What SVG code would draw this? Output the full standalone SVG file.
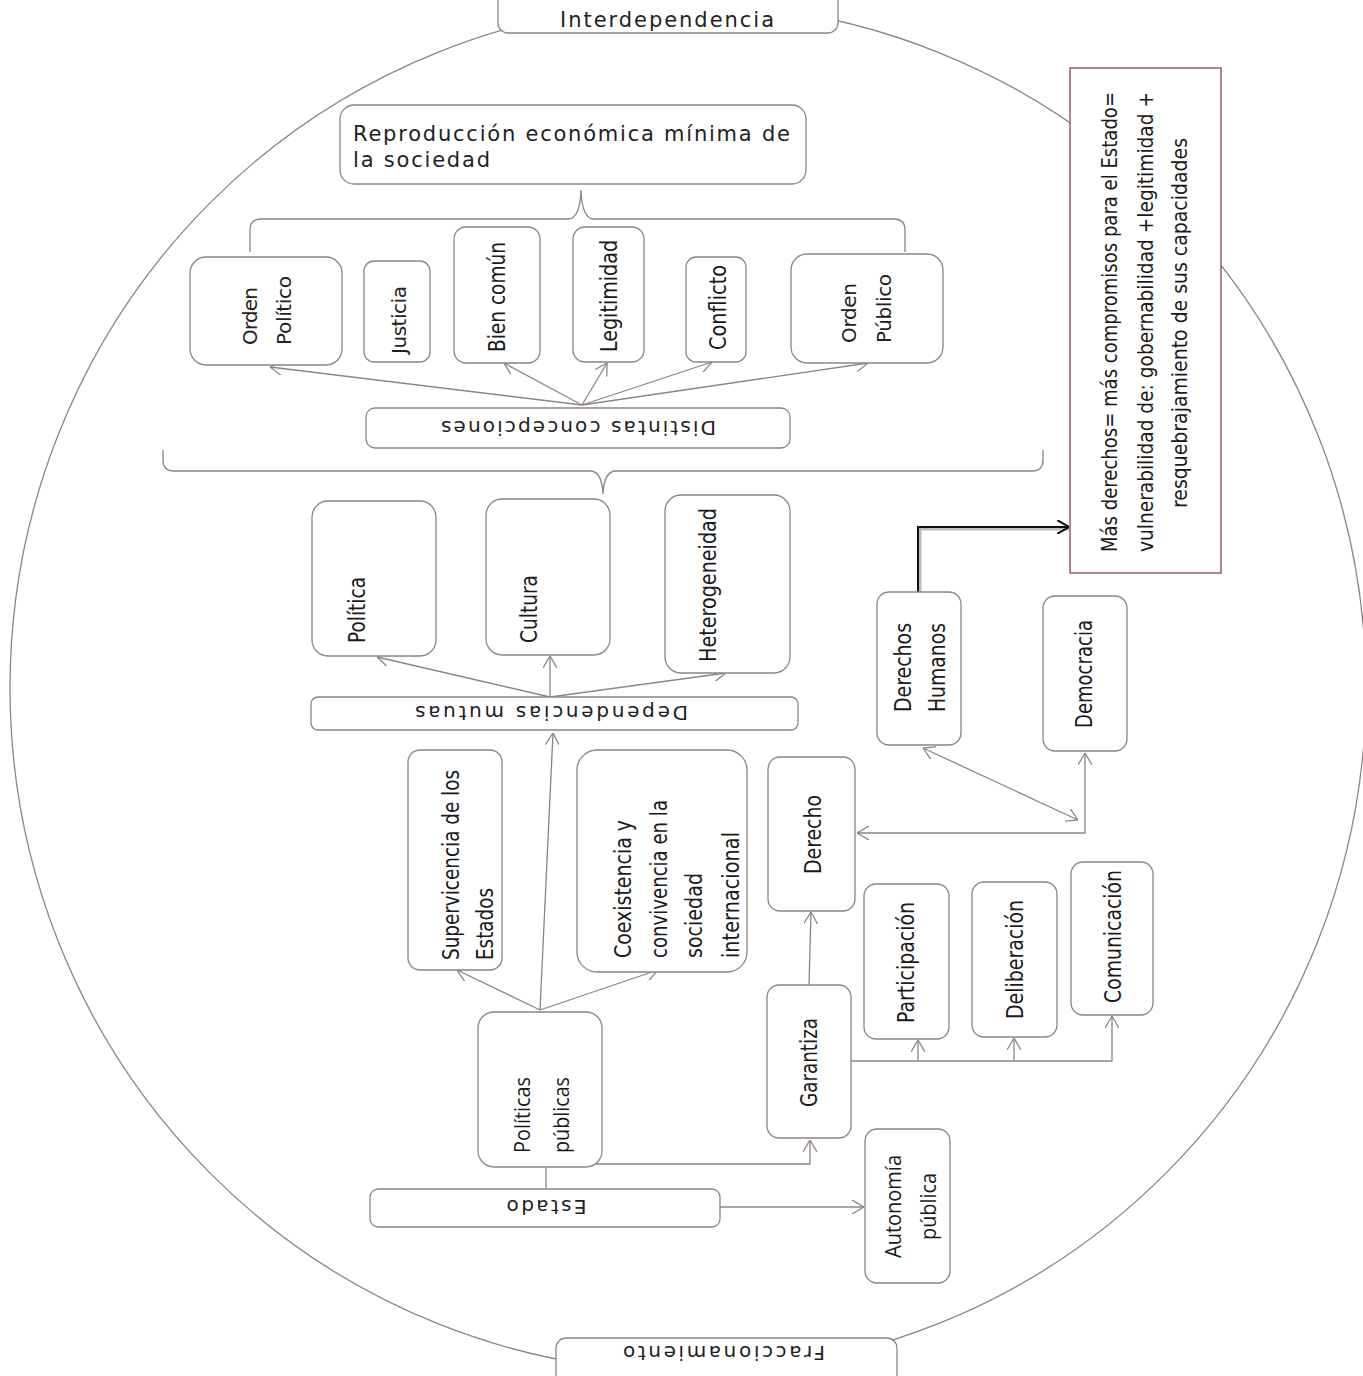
<svg xmlns="http://www.w3.org/2000/svg" width="1363" height="1376" viewBox="0 0 1363 1376">
<style>
.b{fill:#fff;stroke:#8e8484;stroke-width:1.3}
.c{fill:none;stroke:#8e8484;stroke-width:1.3}
.w{font-family:"DejaVu Sans",Verdana,sans-serif;font-size:20px;fill:#222}
.n{font-family:"Liberation Sans Narrow","DejaVu Sans Condensed","Liberation Sans",sans-serif;font-size:23px;fill:#1a1a1a}
.o{font-family:"Open Sans","Noto Sans",sans-serif;font-size:21px;fill:#1a1a1a}
.m{text-anchor:middle;dominant-baseline:central}
</style>
<defs>
<marker id="ah" viewBox="0 0 12 14" refX="12" refY="7" markerWidth="12" markerHeight="14" markerUnits="userSpaceOnUse" orient="auto-start-reverse">
<path d="M0,0 L12,7 L0,14" fill="none" stroke="#8e8484" stroke-width="1.3"/>
</marker>
<marker id="ahk" viewBox="0 0 12 14" refX="12" refY="7" markerWidth="12" markerHeight="14" markerUnits="userSpaceOnUse" orient="auto">
<path d="M0,0 L12,7 L0,14" fill="none" stroke="#111" stroke-width="2"/>
</marker>
</defs>
<rect width="1363" height="1376" fill="#fff"/>
<ellipse cx="688" cy="688" rx="678" ry="684" class="c"/>

<g id="connectors">
<path class="c" d="M250,252 V230 Q250,219 261,219 H568 Q580,219 581,190 Q582,219 594,219 H894 Q905,219 905,230 V252"/>
<path class="c" d="M163,450 V460 Q163,471 174,471 H590 Q602,471 603,494 Q604,471 616,471 H1032 Q1043,471 1043,460 V450"/>
<g class="c" marker-end="url(#ah)">
<path d="M582,405 L270,367"/>
<path d="M582,405 L504,363"/>
<path d="M582,405 L607,363"/>
<path d="M582,405 L712,362"/>
<path d="M582,405 L868,363"/>
<path d="M550,697 L377,657"/>
<path d="M550,697 L550,656"/>
<path d="M550,697 L726,673"/>
<path d="M540,1010 L457,970"/>
<path d="M540,1010 L658,970"/>
<path d="M540,1010 L553,733"/>
<path d="M809,985 L811,912"/>
<path d="M851,1061 H1112 V1016"/>
<path d="M918,1061 V1040"/>
<path d="M1014,1061 V1038"/>
<path d="M546,1189 V1164 H810 V1140"/>
<path d="M720,1207 H864"/>
<path d="M857,833 H1085 V753" marker-start="url(#ah)"/>
<path d="M923,748 L1078,820" marker-start="url(#ah)"/>
</g>
<path d="M920,592 V529 H1069" fill="none" stroke="#bbb" stroke-width="3"/>
<path d="M918,592 V527 H1069" fill="none" stroke="#111" stroke-width="2" marker-end="url(#ahk)"/>
</g>

<g id="interdependencia"><rect class="b" x="498" y="-20" width="340" height="53" rx="10"/>
<text class="w" x="667" y="27" style="font-size:21px" text-anchor="middle" textLength="214" lengthAdjust="spacing">Interdependencia</text></g>

<g id="reproduccion"><rect class="b" x="340" y="105" width="466" height="79" rx="14"/>
<text class="w" x="353" y="141" style="font-size:21px" textLength="437" lengthAdjust="spacing">Reproducción económica mínima de</text>
<text class="w" x="353" y="167" style="font-size:21px" textLength="137" lengthAdjust="spacing">la sociedad</text></g>

<g id="orden-politico"><rect class="b" x="190" y="257" width="152" height="108" rx="16"/>
<text class="w m" x="250" y="316" transform="rotate(-90 250 316)" textLength="58" lengthAdjust="spacing">Orden</text>
<text class="w m" x="284" y="310.5" transform="rotate(-90 284 310.5)" textLength="69" lengthAdjust="spacing">Político</text></g>

<g id="justicia"><rect class="b" x="364" y="261" width="66" height="101" rx="10"/>
<text class="w m" x="399" y="320" transform="rotate(-90 399 320)" textLength="68" lengthAdjust="spacing">Justicia</text></g>

<g id="bien-comun"><rect class="b" x="454" y="227" width="86" height="136" rx="12"/>
<text class="n m" x="497" y="297" transform="rotate(-90 497 297)" textLength="110" lengthAdjust="spacingAndGlyphs">Bien común</text></g>

<g id="legitimidad"><rect class="b" x="573" y="227" width="71" height="135" rx="12"/>
<text class="n m" x="609" y="296" transform="rotate(-90 609 296)" textLength="112" lengthAdjust="spacingAndGlyphs">Legitimidad</text></g>

<g id="conflicto"><rect class="b" x="686" y="257" width="60" height="105" rx="10"/>
<text class="n m" x="718" y="307.5" transform="rotate(-90 718 307.5)" textLength="85" lengthAdjust="spacingAndGlyphs">Conflicto</text></g>

<g id="orden-publico"><rect class="b" x="791" y="254" width="152" height="109" rx="16"/>
<text class="w m" x="849" y="313" transform="rotate(-90 849 313)" textLength="60" lengthAdjust="spacing">Orden</text>
<text class="w m" x="884" y="308.5" transform="rotate(-90 884 308.5)" textLength="69" lengthAdjust="spacing">Público</text></g>

<g id="distintas"><rect class="b" x="366" y="408" width="424" height="40" rx="9"/>
<text class="w m" x="578.5" y="428" transform="rotate(180 578.5 428)" textLength="275" lengthAdjust="spacing">Distintas concepciones</text></g>

<g id="politica"><rect class="b" x="312" y="501" width="124" height="155" rx="16"/>
<text class="n m" x="356.5" y="610" transform="rotate(-90 356.5 610)" textLength="66" lengthAdjust="spacingAndGlyphs">Política</text></g>

<g id="cultura"><rect class="b" x="486" y="499" width="124" height="156" rx="16"/>
<text class="n m" x="528.5" y="609" transform="rotate(-90 528.5 609)" textLength="68" lengthAdjust="spacingAndGlyphs">Cultura</text></g>

<g id="heterogeneidad"><rect class="b" x="665" y="495" width="125" height="178" rx="16"/>
<text class="n m" x="708" y="585" transform="rotate(-90 708 585)" textLength="154" lengthAdjust="spacingAndGlyphs">Heterogeneidad</text></g>

<g id="dependencias"><rect class="b" x="311" y="697" width="487" height="33" rx="7"/>
<text class="w m" x="551.5" y="713" transform="rotate(180 551.5 713)" textLength="273" lengthAdjust="spacing">Dependencias mutuas</text></g>

<g id="derechos-humanos"><rect class="b" x="877" y="592" width="84" height="153" rx="12"/>
<text class="n m" x="902.5" y="667.5" transform="rotate(-90 902.5 667.5)" textLength="89" lengthAdjust="spacingAndGlyphs">Derechos</text>
<text class="n m" x="936.5" y="667.5" transform="rotate(-90 936.5 667.5)" textLength="89" lengthAdjust="spacingAndGlyphs">Humanos</text></g>

<g id="democracia"><rect class="b" x="1043" y="596" width="84" height="155" rx="12"/>
<text class="n m" x="1084" y="674" transform="rotate(-90 1084 674)" textLength="108" lengthAdjust="spacingAndGlyphs">Democracia</text></g>

<g id="supervivencia"><rect class="b" x="408" y="750" width="94" height="220" rx="12"/>
<text class="n m" x="451" y="865" transform="rotate(-90 451 865)" textLength="190" lengthAdjust="spacingAndGlyphs">Supervicencia de los</text>
<text class="n m" x="485" y="924" transform="rotate(-90 485 924)" textLength="72" lengthAdjust="spacingAndGlyphs">Estados</text></g>

<g id="coexistencia"><rect class="b" x="577" y="750" width="170" height="222" rx="20"/>
<text class="n m" x="622.5" y="889" transform="rotate(-90 622.5 889)" textLength="138" lengthAdjust="spacingAndGlyphs">Coexistencia  y</text>
<text class="n m" x="659" y="879" transform="rotate(-90 659 879)" textLength="158" lengthAdjust="spacingAndGlyphs">convivencia en la</text>
<text class="n m" x="694" y="915.5" transform="rotate(-90 694 915.5)" textLength="85" lengthAdjust="spacingAndGlyphs">sociedad</text>
<text class="n m" x="731" y="895" transform="rotate(-90 731 895)" textLength="126" lengthAdjust="spacingAndGlyphs">internacional</text></g>

<g id="derecho"><rect class="b" x="768" y="757" width="87" height="154" rx="12"/>
<text class="n m" x="812.5" y="834.5" transform="rotate(-90 812.5 834.5)" textLength="79" lengthAdjust="spacingAndGlyphs">Derecho</text></g>

<g id="garantiza"><rect class="b" x="767" y="985" width="84" height="153" rx="12"/>
<text class="n m" x="809" y="1062.5" transform="rotate(-90 809 1062.5)" textLength="89" lengthAdjust="spacingAndGlyphs">Garantiza</text></g>

<g id="participacion"><rect class="b" x="864" y="884" width="85" height="155" rx="12"/>
<text class="n m" x="906" y="962.5" transform="rotate(-90 906 962.5)" textLength="121" lengthAdjust="spacingAndGlyphs">Participación</text></g>

<g id="deliberacion"><rect class="b" x="972" y="882" width="85" height="155" rx="12"/>
<text class="n m" x="1014.5" y="959.5" transform="rotate(-90 1014.5 959.5)" textLength="119" lengthAdjust="spacingAndGlyphs">Deliberación</text></g>

<g id="comunicacion"><rect class="b" x="1071" y="862" width="82" height="153" rx="12"/>
<text class="n m" x="1112.5" y="936.5" transform="rotate(-90 1112.5 936.5)" textLength="133" lengthAdjust="spacingAndGlyphs">Comunicación</text></g>

<g id="politicas-publicas"><rect class="b" x="478" y="1012" width="124" height="155" rx="16"/>
<text class="o m" x="522" y="1115" transform="rotate(-90 522 1115)" textLength="76" lengthAdjust="spacingAndGlyphs">Políticas</text>
<text class="o m" x="560.5" y="1115" transform="rotate(-90 560.5 1115)" textLength="76" lengthAdjust="spacingAndGlyphs">públicas</text></g>

<g id="estado"><rect class="b" x="370" y="1189" width="350" height="38" rx="8"/>
<text class="w m" x="546.6" y="1207" transform="rotate(180 546.6 1207)" textLength="80" lengthAdjust="spacing">Estado</text></g>

<g id="autonomia"><rect class="b" x="865" y="1129" width="85" height="154" rx="12"/>
<text class="o m" x="892.5" y="1206.5" transform="rotate(-90 892.5 1206.5)" textLength="103" lengthAdjust="spacingAndGlyphs">Autonomía</text>
<text class="o m" x="927.5" y="1206.5" transform="rotate(-90 927.5 1206.5)" textLength="67" lengthAdjust="spacingAndGlyphs">pública</text></g>

<g id="fraccionamiento"><rect class="b" x="556" y="1338" width="341" height="60" rx="10"/>
<text class="w m" x="724" y="1353" transform="rotate(180 724 1353)" textLength="202" lengthAdjust="spacing">Fraccionamiento</text></g>

<g id="mas-derechos"><rect x="1070" y="68" width="151" height="505" fill="#fff" stroke="#936060" stroke-width="1.5"/>
<text class="n m" x="1109.5" y="322" transform="rotate(-90 1109.5 322)" style="font-size:22px" textLength="460" lengthAdjust="spacingAndGlyphs">Más derechos= más compromisos para el Estado=</text>
<text class="n m" x="1145" y="322" transform="rotate(-90 1145 322)" style="font-size:22px" textLength="460" lengthAdjust="spacingAndGlyphs">vulnerabilidad de:  gobernabilidad +legitimidad +</text>
<text class="n m" x="1179" y="323" transform="rotate(-90 1179 323)" style="font-size:22px" textLength="370" lengthAdjust="spacingAndGlyphs">resquebrajamiento de sus capacidades</text></g>
</svg>
